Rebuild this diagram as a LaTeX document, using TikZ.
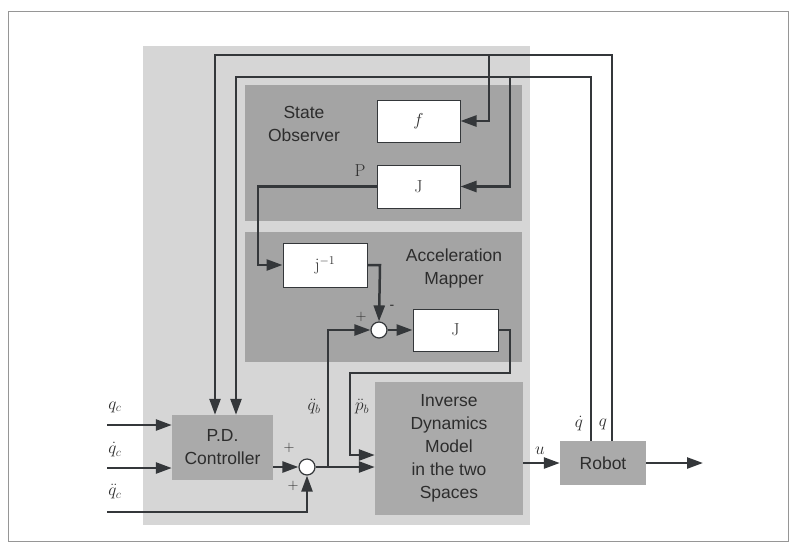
\documentclass[tikz,border=0pt]{standalone}
\usepackage[no-math]{fontspec}
\setmainfont{Liberation Sans}
\usetikzlibrary{arrows.meta}
\definecolor{linec}{RGB}{52,55,58}
\definecolor{framec}{RGB}{150,150,150}
\definecolor{bgc}{RGB}{214,214,214}
\definecolor{panelc}{RGB}{164,164,164}
\definecolor{boxc}{RGB}{170,170,170}
\definecolor{txtc}{RGB}{45,45,45}
\tikzset{
  ln/.style={draw=linec, line width=2.5pt},
  arr/.style={ln, -{Triangle[length=16pt,width=11pt]}},
  wbox/.style={draw=linec, line width=1pt, fill=white, inner sep=0pt, rectangle},
  gbox/.style={fill=boxc, inner sep=0pt, rectangle, text=txtc, align=center,
     font=\fontsize{17.5}{23}\selectfont},
  sumc/.style={circle, draw=linec, line width=1.2pt, fill=white, minimum size=16pt, inner sep=0pt},
  lbl/.style={text=txtc, font=\fontsize{17.5}{23}\selectfont, align=center},
  mlbl/.style={text=txtc, font=\fontsize{17}{18}\selectfont, inner sep=0pt},
  sgn/.style={text=txtc, font=\fontsize{14}{14}\selectfont, inner sep=0pt},
  boxlbl/.style={text=txtc, font=\fontsize{17}{18}\selectfont}
}
\begin{document}
\begin{tikzpicture}[x=1pt,y=-1pt]
\useasboundingbox (0,0) rectangle (795,542);
% frame and backgrounds
\draw[framec, line width=1pt] (8,11) rectangle (788,541);
\fill[bgc] (143,46) rectangle (530,525);
\fill[panelc] (245,85) rectangle (522,221);
\fill[panelc] (245,232) rectangle (522,362);
\node[lbl] (so) at (304,124) {State\\Observer};
\node[lbl] (am) at (454,268) {Acceleration\\Mapper};
% boxes
\node[wbox, minimum width=83pt, minimum height=42pt, boxlbl] (f) at (418.5,121) {$f$};
\node[wbox, minimum width=83pt, minimum height=43pt, boxlbl] (Jo) at (418.5,186.5) {$\mathrm{J}$};
\node[wbox, minimum width=84pt, minimum height=44pt, boxlbl] (Ji) at (325,265) {$\mathrm{j}^{\mathrm{-1}}$};
\node[wbox, minimum width=85pt, minimum height=42pt, boxlbl] (J2) at (455.5,330) {$\mathrm{J}$};
\node[gbox, minimum width=101pt, minimum height=65pt] (PD) at (222.5,447.5) {P.D.\\Controller};
\node[gbox, minimum width=148pt, minimum height=133pt] (IDM) at (449,448.5) {Inverse\\Dynamics\\Model\\in the two\\Spaces};
\node[gbox, minimum width=86pt, minimum height=44pt] (R) at (603,463) {Robot};
\node[sumc] (s1) at (379,330) {};
\node[sumc] (s2) at (307,467) {};
% coordinates
\coordinate (qcin) at (107,425);
\coordinate (dqcin) at (107,468);
\coordinate (ddqcin) at (107,512);
\coordinate (out) at (703,463);
\coordinate (jn) at (328,467);
% observer / mapper connections
\draw[arr] (Jo.west) -- (258,186.5) |- (Ji.west);
\draw[arr] (Ji.east) -- (380,265) -- (s1.north);
\draw[arr] (jn) |- (s1.west);
\draw[arr] (s1.east) -- (J2.west);
\draw[arr] (J2.east) -- (510,330) -- (510,373) -- (350,373) |- ([yshift=-6.5pt]IDM.west);
% controller side
\draw[arr] (qcin) -- (qcin -| PD.west);
\draw[arr] (dqcin) -- (dqcin -| PD.west);
\draw[arr] (ddqcin) -| (s2.south);
\draw[arr] (PD.east |- s2.west) -- (s2.west);
\draw[arr] (s2.east) -- (s2.east -| IDM.west);
\draw[arr] (IDM.east |- R.west) -- (R.west);
\draw[arr] (R.east) -- (out);
% feedback loops
\draw[arr] ([xshift=9pt]R.north) -- (612,55) -| ([xshift=-7.5pt]PD.north);
\draw[arr] ([xshift=-12pt]R.north) -- (591,77) -| ([xshift=13.5pt]PD.north);
\draw[arr] (489,55) |- (f.east);
\draw[arr] (510,77) |- (Jo.east);
% labels
\node[mlbl] (lqc) at (115,407) {$q_c$};
\node[mlbl] (ldqc) at (115,450) {$\dot q_c$};
\node[mlbl] (lddqc) at (115,492) {$\ddot q_c$};
\node[mlbl] (lqb) at (314,407) {$\ddot q_b$};
\node[mlbl] (lpb) at (362,407) {$\ddot p_b$};
\node[mlbl] (lP) at (360,171) {$\mathrm{P}$};
\node[mlbl] (lu) at (540,451) {$u$};
\node[mlbl] (ldq) at (579,424) {$\dot q$};
\node[mlbl] (lq) at (603,424) {$q$};
\node[sgn] (p1) at (289,448) {$+$};
\node[sgn] (p2) at (293,486) {$+$};
\node[sgn] (p3) at (361,317) {$+$};
\node[sgn] (m1) at (392,307) {-};
\end{tikzpicture}
\end{document}
